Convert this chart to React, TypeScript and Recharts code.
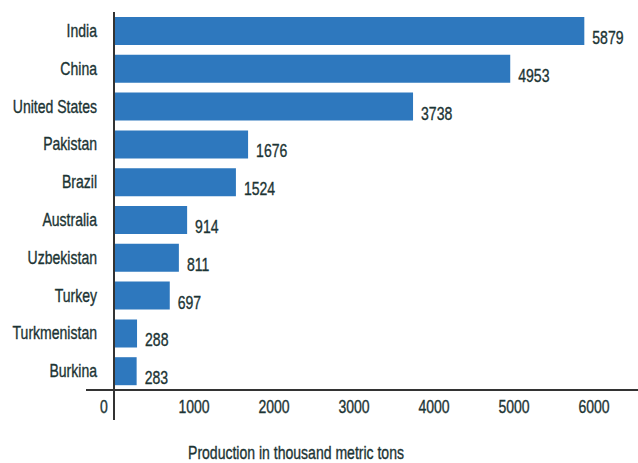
import React from 'react';
import { BarChart, Bar, XAxis, YAxis, LabelList, ReferenceLine } from 'recharts';

const countries = ['India', 'China', 'United States', 'Pakistan', 'Brazil', 'Australia', 'Uzbekistan', 'Turkey', 'Turkmenistan', 'Burkina'];
const production = [5879, 4953, 3738, 1676, 1524, 914, 811, 697, 288, 283];
const xTicks = [0, 1000, 2000, 3000, 4000, 5000, 6000];
const axisTitle = 'Production in thousand metric tons';

const data = countries.map((c, i) => ({ country: c, value: production[i] }));

const FONT = '"Liberation Sans", Arial, sans-serif';
const TEXT = '#1c3434';
const BLUE = '#2E78BE';
const SX = 0.78;

const NarrowText = ({ x, y, anchor, children, size = 18 }: any) => (
  <text
    transform={`translate(${x},${y}) scale(${SX},1)`}
    x={0}
    y={0}
    textAnchor={anchor}
    fill={TEXT}
    stroke={TEXT}
    strokeWidth={0.35}
    fontSize={size}
    fontFamily={FONT}
  >
    {children}
  </text>
);

const XTick = (props: any) => {
  const { x, y, payload } = props;
  const isZero = payload.value === 0;
  return (
    <g>
      {isZero && <line x1={x} x2={x} y1={y} y2={y + 30} stroke="#333" strokeWidth={2} />}
      <NarrowText x={isZero ? x - 10 : x} y={y + 23} anchor="middle">
        {payload.value}
      </NarrowText>
    </g>
  );
};

const YTick = (props: any) => {
  const { x, y, payload } = props;
  return (
    <NarrowText x={x + 11} y={y + 6} anchor="end">
      {payload.value}
    </NarrowText>
  );
};

const ValueLabel = (props: any) => {
  const { x, y, width, height, value } = props;
  return (
    <NarrowText x={x + width + 8} y={y + height / 2 + 13} anchor="start">
      {value}
    </NarrowText>
  );
};

const TitleLabel = (props: any) => {
  const vb = props.viewBox || {};
  return (
    <NarrowText x={vb.x + vb.width / 2 - 66} y={vb.y + vb.height - 4} anchor="middle">
      {axisTitle}
    </NarrowText>
  );
};

export default function App() {
  return (
    <div style={{ position: 'absolute', left: 0, top: 0, background: '#fff' }}>
      <BarChart
        width={638}
        height={463}
        data={data}
        layout="vertical"
        margin={{ top: 12, right: 0, bottom: 0, left: 0 }}
        barSize={28}
      >
        <XAxis
          type="number"
          domain={[-350, 6550]}
          ticks={xTicks}
          allowDataOverflow
          height={73}
          tickSize={0}
          tickMargin={0}
          tickLine={false}
          axisLine={{ stroke: '#333', strokeWidth: 2 }}
          tick={<XTick />}
          label={<TitleLabel />}
        />
        <YAxis
          type="category"
          dataKey="country"
          width={86}
          tickSize={0}
          tickMargin={0}
          tickLine={false}
          axisLine={false}
          tick={<YTick />}
          interval={0}
        />
        <ReferenceLine x={0} stroke="#333" strokeWidth={2} />
        <Bar dataKey="value" fill={BLUE} isAnimationActive={false}>
          <LabelList dataKey="value" content={<ValueLabel />} />
        </Bar>
      </BarChart>
    </div>
  );
}
